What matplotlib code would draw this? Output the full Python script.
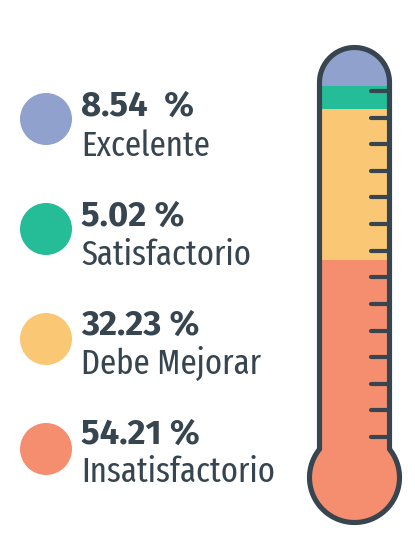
import numpy as np
import matplotlib
matplotlib.use("Agg")
import matplotlib.pyplot as plt
from matplotlib.path import Path
from matplotlib.patches import PathPatch, Circle

# data (top of thermometer to bottom)
categories = ["Excelente", "Satisfactorio", "Debe Mejorar", "Insatisfactorio"]
values = [8.54, 5.02, 32.23, 54.21]
pct_labels = ["8.54  %", "5.02 %", "32.23 %", "54.21 %"]
colors = ["#8FA1CC", "#25BC98", "#FAC874", "#F58E6E"]
dark = "#36454F"
font_bold = ["Fira Sans", "DejaVu Sans"]
font_reg = ["Fira Sans Extra Condensed", "DejaVu Sans"]

fig = plt.figure(figsize=(4.15, 5.35), dpi=100)
ax = fig.add_axes([0, 0, 1, 1])
ax.set_xlim(0, 415)
ax.set_ylim(535, 0)
ax.axis("off")

# thermometer outline (pixel coordinates, y down)
cx, half = 354.5, 35.0
top_c = 82.5
by, br = 477.5, 45.0
dy = np.sqrt(br**2 - half**2)

t = np.linspace(np.pi, 0, 60)
top_arc = np.column_stack([cx + half * np.cos(t), top_c - half * np.sin(t)])
a0 = np.arctan2(dy, half)
a = np.linspace(a0, -np.pi - a0, 120)
bulb_arc = np.column_stack([cx + br * np.cos(a), by - br * np.sin(a)])
verts = np.vstack([[[cx - half, by - dy]], top_arc, [[cx + half, by - dy]], bulb_arc])
verts = np.vstack([verts, verts[:1]])
codes = [Path.MOVETO] + [Path.LINETO] * (len(verts) - 2) + [Path.CLOSEPOLY]
shape = Path(verts, codes)

clip = PathPatch(shape, facecolor="none", edgecolor="none")
ax.add_patch(clip)

# fill bands from values, scale 0-100 % over the tube
scale_top, scale_bot = 46.0, 513.0
px = (scale_bot - scale_top) / 100.0
cum = np.concatenate([[0], np.cumsum(values)])
for i, v in enumerate(values):
    y0 = scale_top + cum[i] * px if i > 0 else scale_top - 10
    y1 = scale_top + cum[i + 1] * px if i < len(values) - 1 else 540
    bars = ax.bar(cx, y1 - y0, bottom=y0, width=2 * half + 20,
                  color=colors[i], linewidth=0)
    for b in bars:
        b.set_clip_path(clip)

outline = PathPatch(shape, facecolor="none", edgecolor=dark, lw=3.7,
                    joinstyle="round", zorder=5)
ax.add_patch(outline)

tick_y = np.linspace(91, 437, 14)
tk = ax.hlines(tick_y, 371, 388, color=dark, lw=3.0, zorder=4)
tk.set_capstyle("round")

# legend
for i, (cat, lab) in enumerate(zip(categories, pct_labels)):
    yc = 119 + 110 * i
    ax.add_patch(Circle((46, yc), 26, color=colors[i], lw=0))
    ax.text(81, 116 + 109.3 * i, lab, fontsize=25, fontweight="bold",
            family=font_bold, color=dark, ha="left", va="baseline")
    ax.text(81, 156 + 108.8 * i, cat, fontsize=25.5,
            family=font_reg, color=dark, ha="left", va="baseline")

fig.savefig("out.png", dpi=100, facecolor="white")
